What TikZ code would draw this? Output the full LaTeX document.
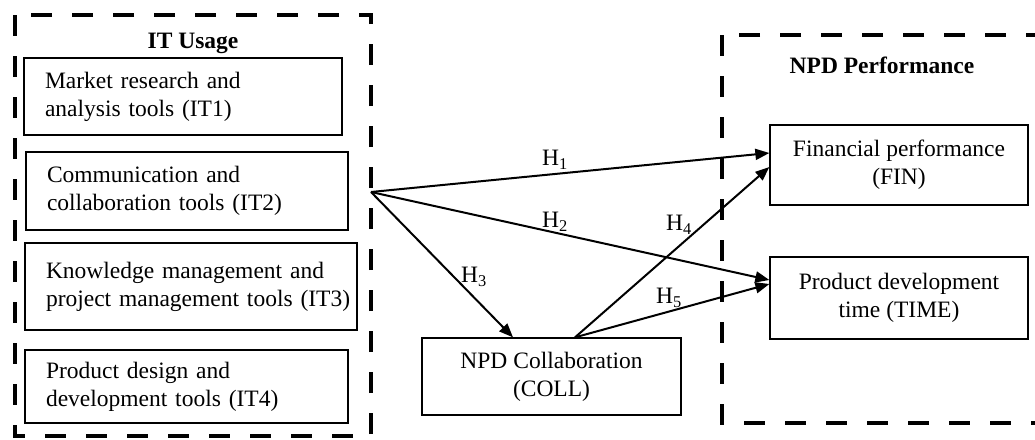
\documentclass[tikz,border=0pt]{standalone}
\usepackage{fontspec}
\setmainfont{Liberation Serif}
\usetikzlibrary{arrows.meta,calc}
\newcommand{\indt}{\hspace*{21pt}}
\begin{document}
\begin{tikzpicture}[x=1pt,y=-1pt,
  font=\fontsize{23.5}{28}\selectfont,
  group/.style={draw, line width=4pt, dash pattern=on 21pt off 20pt},
  itbox/.style={draw, line width=1.3pt, align=left, inner xsep=0pt, inner ysep=0pt, anchor=center},
  cbox/.style={draw, line width=1.3pt, align=center, minimum width=258pt, inner sep=0pt, anchor=center},
  link/.style={line width=2pt, -{Triangle[length=14pt,width=11pt]}},
  hlab/.style={inner sep=0pt}
]
\useasboundingbox (0,0) rectangle (1035,439);
\begin{scope}
\clip (0,0) rectangle (1035,439);
% group frames
\draw[group] (15,15) rectangle (371,436);
\draw[group] (722,35) rectangle (1050,423);
\end{scope}
\node[font=\fontsize{23.5}{28}\selectfont\bfseries] (ittitle) at (193,43) {IT Usage};
\node[font=\fontsize{23.5}{28}\selectfont\bfseries] (perftitle) at (882,65) {NPD Performance};
% IT boxes
\node[itbox, text width=318pt, minimum height=77pt] (it1) at (183,96.5) {\indt Market research and\\\indt analysis tools (IT1)};
\node[itbox, text width=322pt, minimum height=78pt] (it2) at (187,191) {\indt Communication and\\\indt collaboration tools (IT2)};
\node[itbox, text width=332pt, minimum height=87pt] (it3) at (191,286.5) {\indt Knowledge management and\\\indt project management tools (IT3)};
\node[itbox, text width=323pt, minimum height=73pt] (it4) at (186.5,386.5) {\indt Product design and\\\indt development tools (IT4)};
% other boxes
\node[cbox, minimum width=259pt, minimum height=77pt] (coll) at (551.5,376.5) {NPD Collaboration\\(COLL)};
\node[cbox, minimum height=80pt] (fin) at (899,165) {Financial performance\\(FIN)};
\node[cbox, minimum height=82pt] (time) at (899,298) {Product development\\time (TIME)};
% connectors
\coordinate (src) at (371,192);
\draw[link] (src) -- ($(fin.west)+(0,-12)$);
\draw[link] (src) -- ($(time.west)+(0,-18)$);
\draw[link] (src) -- ($(coll.north)+(-38.5,0)$);
\draw[link] ($(coll.north)+(23.5,0)$) -- ($(fin.west)+(0,2)$);
\draw[link] ($(coll.north)+(23.5,0)$) -- ($(time.west)+(0,-14)$);
% labels
\node[hlab] (h1) at (555,160) {H\textsubscript{1}};
\node[hlab] (h2) at (555,222) {H\textsubscript{2}};
\node[hlab] (h3) at (474,277) {H\textsubscript{3}};
\node[hlab] (h4) at (679,225) {H\textsubscript{4}};
\node[hlab] (h5) at (669,298) {H\textsubscript{5}};
\end{tikzpicture}
\end{document}
